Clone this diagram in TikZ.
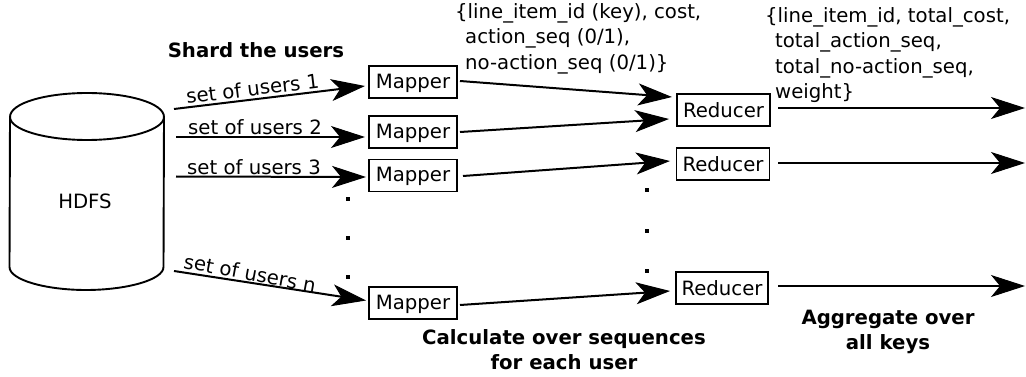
\documentclass[tikz,border=0pt]{standalone}
\usepackage{fontspec}
\setmainfont{DejaVu Sans}
\usetikzlibrary{arrows.meta}
\tikzset{
  box/.style={draw=black,line width=1.9pt,minimum height=32pt,inner sep=0pt,font=\fontsize{19.7}{24}\selectfont},
  mapbox/.style={box,minimum width=88pt,text height=15pt,text depth=2.5pt},
  arr/.style={line width=2pt,-{Stealth[length=34pt,width=22pt,inset=9pt,line width=1pt]}},
  lab/.style={font=\fontsize{19.7}{24}\selectfont,inner sep=0pt},
  head/.style={font=\fontsize{19.7}{25}\selectfont\bfseries,align=center,inner sep=0pt},
  rec/.style={font=\fontsize{19.7}{25.5}\selectfont,align=left,inner sep=0pt,anchor=north west},
  dotm/.style={fill=black,minimum size=4pt,inner sep=0pt}
}
\begin{document}
\begin{tikzpicture}[x=1pt,y=-1pt]
\useasboundingbox (0,0) rectangle (1026,377);
% cylinder
\draw[line width=1.9pt,fill=white] (10,117) .. controls (10,103) and (46,93) .. (87,93) .. controls (128,93) and (164,103) .. (164,117) .. controls (164,130) and (128,140) .. (87,140) .. controls (46,140) and (10,130) .. (10,117);
\draw[line width=1.9pt] (10,117) -- (9.5,267) .. controls (9.5,280) and (46,290) .. (86,290) .. controls (126,290) and (163.5,280) .. (163.5,267) -- (164,117);
\node[font=\fontsize{19.7}{24}\selectfont,inner sep=0pt] (hdfs) at (85,201) {HDFS};
% mappers
\node[mapbox] (m1) at (413,82) {Mapper};
\node[mapbox] (m2) at (413,132) {Mapper};
\node[mapbox] (m3) at (413,175.5) {Mapper};
\node[mapbox] (m4) at (413,303) {Mapper};
% reducers
\node[box,minimum width=93pt] (r1) at (723.5,110) {Reducer};
\node[box,minimum width=93pt] (r2) at (723,164) {Reducer};
\node[box,minimum width=92pt] (r3) at (722,288) {Reducer};
% free ends
\coordinate (s1) at (174,109); \coordinate (e1) at (365,86);
\coordinate (s2) at (176,137); \coordinate (e2) at (365,137);
\coordinate (s3) at (176,176.5); \coordinate (e3) at (366,177);
\coordinate (s4) at (174,271); \coordinate (e4) at (366,300.5);
\coordinate (a1) at (460,81); \coordinate (b1) at (672,97);
\coordinate (a2) at (460,132); \coordinate (b2) at (669,119);
\coordinate (a3) at (463,176); \coordinate (b3) at (670,161);
\coordinate (a4) at (460,305); \coordinate (b4) at (670,291);
\coordinate (c1) at (778,108); \coordinate (d1) at (1025,108);
\coordinate (c2) at (778,163); \coordinate (d2) at (1025,163);
\coordinate (c3) at (778,286); \coordinate (d3) at (1025,286);
\foreach \p/\q in {s1/e1,s2/e2,s3/e3,s4/e4,a1/b1,a2/b2,a3/b3,a4/b4,c1/d1,c2/d2,c3/d3}
  \draw[arr] (\p) -- (\q);
% labels
\node[lab,rotate=7] (l1) at (252.5,88.5) {set of users 1};
\node[lab] (l2) at (255,127) {set of users 2};
\node[lab] (l3) at (254,167) {set of users 3};
\node[lab,rotate=-10.5] (l4) at (250,273) {set of users n};
% dots
\foreach \n/\x/\y in {p1/348/199,p2/348/238,p3/348/277,q1/647/190,q2/647/231,q3/647/271}
  \node[dotm] (\n) at (\x,\y) {};
% headings
\node[head] (h1) at (256,50) {Shard the users};
\node[head] (h2) at (564,350) {Calculate over sequences\\for each user};
\node[head] (h3) at (888,332) {Aggregate over\\all keys};
% records
\node[rec] (t1) at (455,3) {\{line\_item\_id (key), cost,\\\hspace*{10pt}action\_seq (0/1),\\\hspace*{10pt}no-action\_seq (0/1)\}};
\node[rec] (t2) at (765,7) {\{line\_item\_id, total\_cost,\\\hspace*{10pt}total\_action\_seq,\\\hspace*{10pt}total\_no-action\_seq,\\\hspace*{10pt}weight\}};
\end{tikzpicture}
\end{document}
